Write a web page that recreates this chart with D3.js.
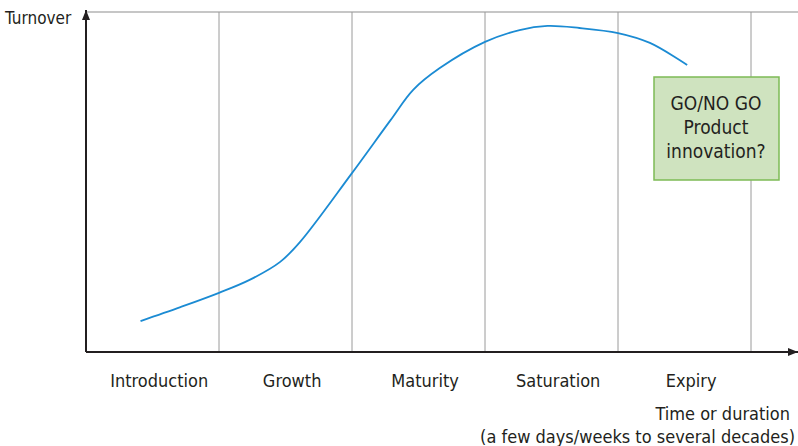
<!DOCTYPE html>
<html>
<head>
<meta charset="utf-8">
<script src="https://cdn.jsdelivr.net/npm/d3@7"></script>
<style>
  body { margin: 0; background: #fff; }
  text { font-family: "Liberation Sans Narrow", "DejaVu Sans Condensed", "Roboto", sans-serif; fill: #231f20; }
</style>
</head>
<body>
<div id="chart"></div>
<script>
const width = 798;
const height = 446;

// phases of the product life cycle
const phases = ["Introduction", "Growth", "Maturity", "Saturation", "Expiry"];
// curve: x in phase units, y as turnover 0..100
const timeVals = [0.41, 0.71, 1.0, 1.23, 1.46, 1.61, 1.99, 2.29, 2.46, 2.66, 3.0, 3.26, 3.47, 3.71, 4.0, 4.24, 4.52];
const turnoverVals = [9.1, 13.2, 17.4, 21.2, 26.5, 32.4, 52.1, 68.2, 77.1, 83.5, 91.2, 94.7, 95.9, 95.3, 93.8, 90.9, 84.4];
const boxLines = ["GO/NO GO", "Product", "innovation?"];

const plotLeft = 86, plotRight = 798, plotTop = 12, plotBottom = 352;

const x = d3.scaleLinear().domain([0, (plotRight - plotLeft) / 133]).range([plotLeft, plotRight]);
const y = d3.scaleLinear().domain([0, 100]).range([plotBottom, plotTop]);

const svg = d3.select("#chart")
  .append("svg")
  .attr("width", width)
  .attr("height", height);

const defs = svg.append("defs");
defs.append("marker")
  .attr("id", "arrow")
  .attr("viewBox", "0 0 10 10")
  .attr("refX", 10)
  .attr("refY", 5)
  .attr("markerWidth", 5)
  .attr("markerHeight", 5)
  .attr("markerUnits", "strokeWidth")
  .attr("orient", "auto")
  .append("path")
  .attr("d", "M0,1 L10,5 L0,9 Z")
  .attr("fill", "#231f20");

// top border
svg.append("line")
  .attr("x1", plotLeft).attr("x2", plotRight)
  .attr("y1", plotTop).attr("y2", plotTop)
  .attr("stroke", "#b3b3b3")
  .attr("stroke-width", 1.5);

// phase boundaries
svg.append("g")
  .selectAll("line")
  .data(d3.range(1, phases.length + 1))
  .join("line")
  .attr("x1", (d) => x(d)).attr("x2", (d) => x(d))
  .attr("y1", plotTop).attr("y2", plotBottom)
  .attr("stroke", "#9a9a9a")
  .attr("stroke-width", 1);

// axes
svg.append("line")
  .attr("x1", plotLeft).attr("x2", plotRight)
  .attr("y1", plotBottom).attr("y2", plotBottom)
  .attr("stroke", "#231f20")
  .attr("stroke-width", 2)
  .attr("marker-end", "url(#arrow)");

svg.append("line")
  .attr("x1", plotLeft).attr("x2", plotLeft)
  .attr("y1", plotBottom).attr("y2", plotTop - 2)
  .attr("stroke", "#231f20")
  .attr("stroke-width", 2)
  .attr("marker-end", "url(#arrow)");

// life cycle curve
const pts = timeVals.map((t, i) => [t, turnoverVals[i]]);
svg.append("path")
  .datum(pts)
  .attr("fill", "none")
  .attr("stroke", "#1b8bd3")
  .attr("stroke-width", 1.8)
  .attr("d", d3.line()
    .x((d) => x(d[0]))
    .y((d) => y(d[1]))
    .curve(d3.curveCatmullRom));

// phase labels
svg.append("g")
  .selectAll("text")
  .data(phases)
  .join("text")
  .attr("x", (d, i) => x(i + 0.55))
  .attr("y", 387)
  .attr("text-anchor", "middle")
  .attr("font-size", 18)
  .text((d) => d);

svg.append("text")
  .attr("x", 5).attr("y", 24)
  .attr("font-size", 17)
  .text("Turnover");

svg.append("text")
  .attr("x", 790).attr("y", 420)
  .attr("text-anchor", "end")
  .attr("font-size", 18)
  .text("Time or duration");

svg.append("text")
  .attr("x", 795).attr("y", 443)
  .attr("text-anchor", "end")
  .attr("font-size", 18)
  .text("(a few days/weeks to several decades)");

// decision box
const box = svg.append("g");
box.append("rect")
  .attr("x", 654).attr("y", 77)
  .attr("width", 125).attr("height", 103)
  .attr("fill", "#cfe3bf")
  .attr("stroke", "#7dbb55")
  .attr("stroke-width", 1.5);

box.selectAll("text")
  .data(boxLines)
  .join("text")
  .attr("x", 716)
  .attr("y", (d, i) => 110 + i * 24)
  .attr("text-anchor", "middle")
  .attr("font-size", 19)
  .text((d) => d);
</script>
</body>
</html>
